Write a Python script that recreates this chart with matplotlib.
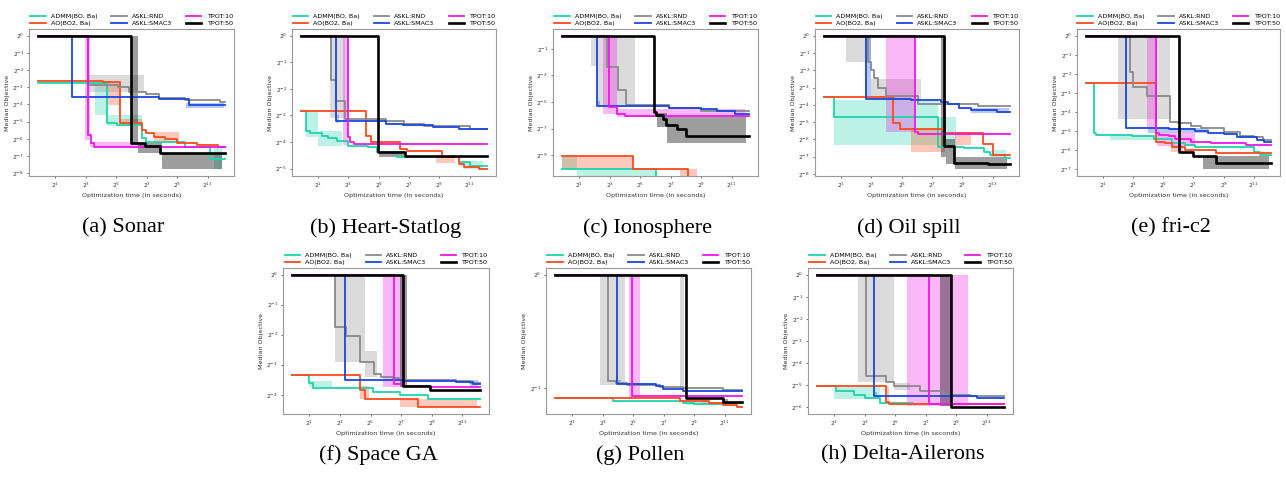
import numpy as np
import matplotlib
matplotlib.use("Agg")
import matplotlib.pyplot as plt
from matplotlib.ticker import FixedLocator, FuncFormatter, NullLocator

# every number below is a log2 exponent
# each method: (step times, median values, bands as (t0, t1, lo, hi))
METHODS = ["ADMM(BO, Ba)", "AO(BO2, Ba)", "ASKL:RND", "ASKL:SMAC3", "TPOT:10", "TPOT:50"]
COLORS = ["#1ed4ac", "#ff4a1c", "#8a8a8a", "#1a47e0", "#f016e8", "#000000"]
T_START = -0.1
T_END = 12.12
GONE = -30  # median hits 0 -> off the log axis

SONAR = {
    "ADMM(BO, Ba)": ([T_START, 4.39, 5.05, 6.72, 6.94, 9.5, 11.15],
                     [-2.73, -5.1, -5.19, -5.97, -6.16, -6.45, -7.19],
                     [(3.6, 4.39, -4.6, -2.75), (4.39, 6.72, -5.25, -4.6), (11.4, 11.95, -7.77, -6.45)]),
    "AO(BO2, Ba)": ([T_START, 4.13, 5.25, 6.72, 6.94, 7.48, 8.23, 9.0, 10.3, 11.7],
                    [-2.62, -2.69, -5.06, -5.48, -5.68, -5.87, -6.03, -6.22, -6.36, -6.45],
                    [(4.4, 5.25, -4.03, -2.77), (5.25, 6.72, -5.2, -4.85), (7.48, 9.1, -6.25, -5.6)]),
    "ASKL:RND": ([T_START, 3.16, 5.1, 5.86, 6.94, 7.8, 9.5, 11.8],
                 [0, -2.87, -3.0, -3.26, -3.41, -3.64, -3.74, -3.84],
                 [(3.16, 6.8, -3.3, -2.3)]),
    "ASKL:SMAC3": ([T_START, 2.14, 7.8, 9.75],
                   [0, -3.55, -3.66, -4.03],
                   [(9.6, 12.1, -4.2, -3.9)]),
    "TPOT:10": ([T_START, 3.16, 3.37, 3.55],
                [0, -5.78, -6.26, -6.45],
                [(2.94, 3.27, -6.07, 0), (3.27, 6.9, -6.45, -6.2)]),
    "TPOT:50": ([T_START, 6.0, 6.9, 7.85],
                [0, -6.22, -6.42, -6.8],
                [(5.97, 6.46, -6.22, 0), (6.46, 8.0, -6.8, -6.22), (8.0, 11.95, -7.77, -6.8)]),
}

HEART = {
    "ADMM(BO, Ba)": ([T_START, 0.18, 0.5, 1.26, 1.69, 2.23, 2.98, 4.27, 4.91, 6.2, 10.3, 11.0],
                     [-2.82, -3.57, -3.67, -3.76, -3.85, -3.98, -4.14, -4.2, -4.39, -4.58, -4.77, -4.9],
                     [(0.18, 1.0, -3.8, -2.82), (1.0, 2.6, -4.14, -3.6), (10.6, 11.9, -5.0, -4.7)]),
    "AO(BO2, Ba)": ([T_START, 4.16, 4.5, 6.42, 6.85, 9.2, 10.3, 10.6, 11.6],
                    [-2.82, -3.76, -4.02, -4.27, -4.33, -4.58, -4.84, -4.96, -5.03],
                    [(8.8, 10.0, -4.8, -4.5)]),
    "ASKL:RND": ([T_START, 1.86, 2.16, 2.76, 5.5, 6.7, 8.0, 11.0],
                 [0, -1.65, -2.44, -3.13, -3.2, -3.33, -3.4, -3.5],
                 [(1.8, 2.8, -3.1, 0)]),
    "ASKL:SMAC3": ([T_START, 2.16, 5.47, 6.63, 8.57, 10.3],
                   [0, -3.22, -3.32, -3.38, -3.45, -3.51],
                   [(2.16, 2.4, -3.3, -3.0)]),
    "TPOT:10": ([T_START, 2.98, 3.09, 3.4],
                [0, -3.83, -4.02, -4.08],
                [(2.65, 3.0, -4.1, 0)]),
    "TPOT:50": ([T_START, 4.96, 6.74],
                [0, -4.39, -4.52],
                [(5.0, 6.7, -4.55, -4.35)]),
}

IONO = {
    "ADMM(BO, Ba)": ([T_START, 6.04],
                     [-10.07, GONE],
                     [(T_START, 0.85, -10.07, -9.08), (0.85, 6.04, GONE, -10.07)]),
    "AO(BO2, Ba)": ([T_START, 4.52, 8.13],
                    [-9.08, -10.07, GONE],
                    [(T_START, 4.52, -10.07, -9.08), (7.6, 8.75, GONE, -10.07)]),
    "ASKL:RND": ([T_START, 2.8, 3.58, 4.06, 6.9, 8.97],
                 [0, -2.38, -4.13, -5.25, -5.43, -5.7],
                 [(1.81, 2.19, -2.25, 0), (2.19, 4.67, -5.3, 0)]),
    "ASKL:SMAC3": ([T_START, 2.19, 6.88, 8.97, 10.07, 11.2],
                   [0, -5.33, -5.43, -5.55, -5.7, -5.93],
                   [(2.19, 2.4, -5.3, -4.9)]),
    "TPOT:10": ([T_START, 2.96, 3.5, 4.0],
                [0, -5.38, -5.88, -6.05],
                [(2.6, 3.5, -5.9, 0), (3.5, 11.9, -6.1, -5.5)]),
    "TPOT:50": ([T_START, 5.93, 6.04, 6.48, 6.7, 7.43, 7.98],
                [0, -5.75, -6.0, -6.25, -6.7, -7.0, -7.55],
                [(6.1, 6.77, -6.9, -5.8), (6.77, 11.95, -8.08, -6.12)]),
}

OIL = {
    "ADMM(BO, Ba)": ([T_START, 0.56, 7.39, 8.6, 9.1, 10.45, 10.8, 11.8],
                     [-3.56, -4.68, -6.42, -6.45, -6.51, -6.7, -6.88, -7.1],
                     [(0.56, 7.39, -6.32, -3.72), (7.39, 8.6, -6.45, -4.7), (10.9, 11.9, -7.0, -6.6)]),
    "AO(BO2, Ba)": ([T_START, 4.44, 4.87, 7.83, 10.34, 11.0],
                    [-3.56, -5.07, -5.41, -5.61, -6.28, -6.9],
                    [(5.6, 7.83, -6.7, -5.41), (8.5, 9.6, -6.3, -5.6)]),
    "ASKL:RND": ([T_START, 2.8, 3.0, 3.2, 3.45, 4.0, 6.08, 10.0],
                 [0, -1.5, -2.0, -2.47, -3.04, -3.49, -3.95, -4.05],
                 [(1.3, 3.0, -1.5, 0), (3.0, 6.3, -3.7, -2.5)]),
    "ASKL:SMAC3": ([T_START, 2.64, 5.64, 7.6, 8.05, 8.8, 9.58, 11.3],
                   [0, -3.66, -3.72, -3.82, -3.95, -4.2, -4.3, -4.4],
                   [(2.6, 2.95, -3.5, 0), (9.6, 12.1, -4.5, -4.2)]),
    "TPOT:10": ([T_START, 5.86, 6.08],
                [0, -5.59, -5.7],
                [(4.0, 5.86, -5.6, 0)]),
    "TPOT:50": ([T_START, 7.76, 8.48, 10.67],
                [0, -6.38, -7.38, -7.44],
                [(7.6, 7.95, -7.0, 0), (7.95, 8.5, -7.4, -6.0), (8.5, 11.95, -7.73, -7.0)]),
}

FRIC2 = {
    "ADMM(BO, Ba)": ([T_START, 0.41, 0.57, 2.96, 4.37, 5.57, 6.43, 7.1, 11.0, 11.4],
                     [-2.5, -5.11, -5.2, -5.25, -5.43, -5.6, -5.72, -5.81, -6.07, -6.25],
                     [(1.5, 4.4, -5.45, -5.2)]),
    "AO(BO2, Ba)": ([T_START, 4.54, 5.13, 5.57, 6.43, 8.5],
                    [-2.5, -5.55, -5.6, -5.81, -5.99, -6.13],
                    [(5.5, 6.3, -6.1, -5.7)]),
    "ASKL:RND": ([T_START, 2.78, 3.0, 3.93, 5.46, 6.0, 6.87, 7.5, 9.04, 10.1, 11.0, 11.6],
                 [0, -1.88, -2.7, -3.16, -4.5, -4.58, -4.71, -4.85, -5.03, -5.25, -5.32, -5.46],
                 [(1.98, 5.46, -4.35, 0)]),
    "ASKL:SMAC3": ([T_START, 2.52, 5.35, 7.1, 7.96, 9.04, 9.9, 11.2, 11.65],
                   [0, -4.85, -4.88, -4.97, -5.08, -5.17, -5.32, -5.46, -5.55],
                   [(4.0, 8.0, -5.1, -4.85)]),
    "TPOT:10": ([T_START, 4.54, 4.7, 5.35, 5.78, 6.87, 8.17, 10.5],
                [0, -5.08, -5.2, -5.28, -5.43, -5.55, -5.64, -5.72],
                [(3.93, 4.6, -4.85, 0), (4.6, 7.1, -5.8, -5.1)]),
    "TPOT:50": ([T_START, 6.04, 6.98, 8.5],
                [0, -6.07, -6.3, -6.65],
                [(7.6, 12.0, -7.0, -6.3)]),
}

SPACEGA = {
    "ADMM(BO, Ba)": ([T_START, 1.0, 1.26, 5.17, 6.9, 8.76],
                     [-3.34, -3.62, -3.79, -3.92, -4.0, -4.14],
                     [(1.0, 2.5, -3.75, -3.55)]),
    "AO(BO2, Ba)": ([T_START, 4.3, 4.63, 8.11],
                    [-3.34, -3.83, -4.14, -4.42],
                    [(4.3, 4.9, -4.14, -3.7), (6.9, 11.95, -4.42, -4.14)]),
    "ASKL:RND": ([T_START, 2.67, 3.43, 4.3, 5.2, 5.7, 6.48, 7.13, 10.6, 11.5],
                 [0, -1.73, -2.05, -2.92, -3.31, -3.4, -3.45, -3.51, -3.55, -3.6],
                 [(2.67, 4.63, -2.92, 0), (4.63, 5.4, -3.4, -2.55)]),
    "ASKL:SMAC3": ([T_START, 3.33, 7.13, 9.96, 10.6, 11.7],
                   [0, -3.51, -3.53, -3.55, -3.58, -3.65],
                   [(11.5, 12.0, -3.7, -3.5)]),
    "TPOT:10": ([T_START, 6.54, 7.13, 8.87],
                [0, -3.64, -3.7, -3.75],
                [(5.8, 7.1, -3.75, 0)]),
    "TPOT:50": ([T_START, 7.13, 8.87],
                [0, -3.72, -3.83],
                [(6.9, 7.4, -3.75, 0)]),
}

POLLEN = {
    "ADMM(BO, Ba)": ([T_START, 3.7, 8.28, 9.0, 11.0],
                     [-1.089, -1.113, -1.133, -1.142, -1.133],
                     [(8.5, 10.5, -1.15, -1.12)]),
    "AO(BO2, Ba)": ([T_START, 8.06, 10.0, 10.9, 11.8],
                    [-1.089, -1.11, -1.13, -1.145, -1.17],
                    [(9.5, 11.0, -1.15, -1.12)]),
    "ASKL:RND": ([T_START, 3.37, 3.9, 4.57, 6.75, 8.28, 10.9],
                 [0, -0.94, -0.955, -0.97, -0.99, -1.0, -1.015],
                 [(2.85, 4.5, -0.97, 0), (8.1, 8.32, -1.02, 0)]),
    "ASKL:SMAC3": ([T_START, 3.96, 6.53, 6.97, 8.28, 9.1],
                   [0, -0.964, -0.985, -1.006, -1.024, -1.03],
                   [(3.96, 4.2, -0.97, -0.93)]),
    "TPOT:10": ([T_START, 4.9],
                [0, -1.074],
                [(4.7, 5.45, -1.09, 0)]),
    "TPOT:50": ([T_START, 8.45, 10.89],
                [0, -1.09, -1.12],
                [(10.89, 11.2, -1.13, -1.1)]),
}

DELTA = {
    "ADMM(BO, Ba)": ([T_START, 1.1, 2.3, 3.0, 4.03, 6.2, 9.4],
                     [-5.05, -5.28, -5.43, -5.58, -5.8, -5.83, -5.87],
                     [(1.0, 4.0, -5.6, -5.1)]),
    "AO(BO2, Ba)": ([T_START, 4.4, 4.57, 7.17],
                    [-5.05, -5.77, -5.83, -5.87],
                    [(4.4, 4.6, -5.8, -5.1)]),
    "ASKL:RND": ([T_START, 3.1, 4.4, 4.9, 6.63, 8.14, 9.9],
                 [0, -4.57, -4.87, -5.05, -5.28, -5.43, -5.5],
                 [(2.57, 4.9, -4.87, 0), (4.9, 6.0, -5.2, -4.9)]),
    "ASKL:SMAC3": ([T_START, 3.6, 10.4],
                   [0, -5.5, -5.58],
                   [(3.6, 3.8, -5.5, -5.3)]),
    "TPOT:10": ([T_START, 7.23],
                [0, -5.83],
                [(5.76, 9.76, -5.95, 0)]),
    "TPOT:50": ([T_START, 8.64],
                [0, -6.0],
                [(7.93, 8.75, -5.95, 0)]),
}

PANELS = [SONAR, HEART, IONO, OIL, FRIC2, SPACEGA, POLLEN, DELTA]
CAPTIONS = ["(a) Sonar", "(b) Heart-Statlog", "(c) Ionosphere", "(d) Oil spill",
            "(e) fri-c2", "(f) Space GA", "(g) Pollen", "(h) Delta-Ailerons"]
X_TICKS = [1, 3, 5, 7, 9, 11]
Y_TICK_STEP = [1, 1, 2, 1, 1, 1, 1, 1]

# axes boxes in pixels (left, top, right, bottom) on a 1286x480 canvas
W, H = 1286, 480
BOXES = [(29, 29, 234, 176), (292, 29, 496, 176), (553, 29, 758, 176),
         (815, 29, 1019, 176), (1077, 29, 1280, 176),
         (283, 268, 489, 414), (546, 268, 751, 414), (808, 268, 1013, 414)]

TEXT_COLOR = "#333333"
SPINE_COLOR = "#9a9a9a"


def pow2_label(v, pos):
    e = int(round(np.log2(v)))
    return r"$2^{%d}$" % e


def draw_panel(ax, data, step):
    # bands first, lines on top
    all_vals = []
    for name, color in zip(METHODS, COLORS):
        t, y, bands = data[name]
        a = 0.38 if name == "TPOT:50" else 0.3
        for t0, t1, lo, hi in bands:
            ax.fill_between(np.exp2([t0, t1]), np.exp2(lo), np.exp2(hi),
                            color=color, alpha=a, lw=0)
            all_vals += [lo, hi]
        all_vals += list(y)

    for name, color in zip(METHODS, COLORS):
        t, y, bands = data[name]
        tt = np.exp2(list(t) + [T_END])
        yy = np.exp2(list(y) + [y[-1]])
        lw = 1.9 if name == "TPOT:50" else 1.3
        ax.step(tt, yy, where="post", color=color, lw=lw, label=name)

    ax.set_xscale("log", base=2)
    ax.set_yscale("log", base=2)

    vals = [v for v in all_vals if v > -15]
    lo, hi = min(vals), max(vals)
    r = hi - lo
    ax.set_ylim(2 ** (lo - 0.05 * r), 2 ** (hi + 0.05 * r))
    rt = T_END - T_START
    ax.set_xlim(2 ** (T_START - 0.05 * rt), 2 ** (T_END + 0.05 * rt))

    ax.xaxis.set_major_locator(FixedLocator([2.0 ** k for k in X_TICKS]))
    if step == 1:
        yt = [2.0 ** k for k in range(0, int(np.floor(lo)) - 1, -1)]
    else:
        yt = [2.0 ** k for k in range(-1, int(np.floor(lo)) - 1, -2)]
    ax.yaxis.set_major_locator(FixedLocator(yt))
    ax.xaxis.set_minor_locator(NullLocator())
    ax.yaxis.set_minor_locator(NullLocator())
    ax.xaxis.set_major_formatter(FuncFormatter(pow2_label))
    ax.yaxis.set_major_formatter(FuncFormatter(pow2_label))

    ax.tick_params(labelsize=4.3, colors=TEXT_COLOR, length=1.5, width=0.5, pad=2)
    for s in ax.spines.values():
        s.set_color(SPINE_COLOR)
        s.set_linewidth(0.8)
    ax.set_xlabel("Optimization time (in seconds)", fontsize=4.6, color=TEXT_COLOR, labelpad=2)
    ax.set_ylabel("Median Objective", fontsize=4.6, color=TEXT_COLOR, labelpad=2)

    ax.legend(loc="lower center", bbox_to_anchor=(0.5, 1.0), ncol=3, frameon=False,
              fontsize=4.6, handlelength=2.4, columnspacing=2.2, labelspacing=0.35,
              borderaxespad=0.2, borderpad=0.2)


fig = plt.figure(figsize=(W / 100, H / 100), dpi=100)

for i, data in enumerate(PANELS):
    l, t, r, b = BOXES[i]
    ax = fig.add_axes([l / W, 1 - b / H, (r - l) / W, (b - t) / H])
    draw_panel(ax, data, Y_TICK_STEP[i])
    cy = 228 if i < 5 else 455
    cx = (l + r) / 2 - 8
    fig.text(cx / W, 1 - cy / H, CAPTIONS[i], ha="center", va="center",
             fontsize=16, family="Liberation Serif")

fig.savefig("out.png", dpi=100)
